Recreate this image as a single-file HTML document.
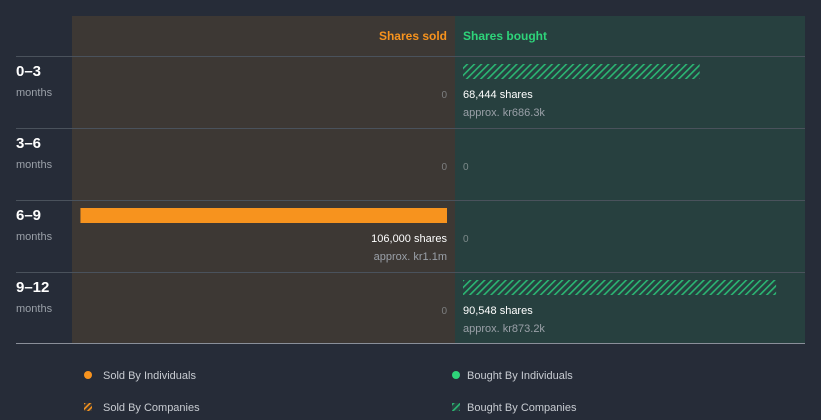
<!DOCTYPE html>
<html><head><meta charset="utf-8"><style>
body{margin:0;background:#262c38;font-family:"Liberation Sans",sans-serif;}
svg{display:block}
</style></head><body>
<svg id="c" width="821" height="420" xmlns="http://www.w3.org/2000/svg">
<defs>
<pattern id="hg" width="5" height="5" patternUnits="userSpaceOnUse" patternTransform="rotate(45)"><rect width="5" height="5" fill="#27403f"/><rect width="1.6" height="5" fill="#2bb673"/></pattern>
<pattern id="ho" width="4" height="4" patternUnits="userSpaceOnUse" patternTransform="rotate(45)"><rect width="4" height="4" fill="#3d3834"/><rect width="1.6" height="4" fill="#f7931e"/></pattern>
</defs>
<rect x="72" y="16" width="383" height="328" fill="#3d3834"/>
<rect x="455" y="16" width="350" height="328" fill="#27403f"/>
<text x="447" y="40" text-anchor="end" fill="#f7931e" font-size="12" font-weight="bold">Shares sold</text>
<text x="463" y="40" fill="#2ed47a" font-size="12" font-weight="bold">Shares bought</text>
<g id="rows"></g>
<line x1="16" y1="343.5" x2="805" y2="343.5" stroke="#8a8f99" stroke-width="1"/>
<g>
<circle cx="88" cy="375" r="4" fill="#f7931e"/>
<text x="103" y="379" fill="#c8ccd2" font-size="11">Sold By Individuals</text>
<rect x="84" y="403" width="8" height="8" fill="url(#ho)"/>
<text x="103" y="411" fill="#c8ccd2" font-size="11">Sold By Companies</text>
<circle cx="456" cy="375" r="4" fill="#2ed47a"/>
<text x="467" y="379" fill="#c8ccd2" font-size="11">Bought By Individuals</text>
<rect x="452" y="403" width="8" height="8" fill="url(#hg)"/>
<text x="467" y="411" fill="#c8ccd2" font-size="11">Bought By Companies</text>
</g>
</svg>
<script>
const periods=["0\u20133","3\u20136","6\u20139","9\u201312"];
const soldShares=[0,0,106000,0];
const soldValue=["","","kr1.1m",""];
const boughtShares=[68444,0,0,90548];
const boughtValue=["kr686.3k","","","kr873.2k"];
const soldByCompany=[false,false,false,false];
const boughtByCompany=[true,false,false,true];
const NS="http://www.w3.org/2000/svg";
const g=document.getElementById("rows");
const scale=v=>v*0.003458;
const rowY=i=>56+i*72;
function el(t,a,txt){const e=document.createElementNS(NS,t);for(const k in a)e.setAttribute(k,a[k]);if(txt!==undefined)e.textContent=txt;g.appendChild(e);return e;}
const fmt=n=>n.toLocaleString("en-US");
periods.forEach((p,i)=>{
  const y=rowY(i);
  const ln=el("line",{x1:16,y1:y+0.5,x2:805,y2:y+0.5,stroke:"#4a525c","stroke-width":1});
  
  
  const pl=el("text",{x:16,y:y+20,fill:"#ffffff","font-size":15,"font-weight":"bold"},p);
  
  
  const ml=el("text",{x:16,y:y+40,fill:"#9aa0a8","font-size":11},"months");
  
  
  if(soldShares[i]>0){
    const w=scale(soldShares[i]);
    const b=el("rect",{x:447-w,y:y+8,width:w,height:15,fill:soldByCompany[i]?"url(#ho)":"#f7931e"});
    
    
    const t=el("text",{x:447,y:y+42,"text-anchor":"end",fill:"#ffffff","font-size":11},fmt(soldShares[i])+" shares");
    
    
    const a=el("text",{x:447,y:y+60,"text-anchor":"end",fill:"#9aa0a8","font-size":11},"approx. "+soldValue[i]);
    
    
  } else {
    const z=el("text",{x:447,y:y+42,"text-anchor":"end",fill:"#7d7f80","font-size":10},"0");
    
    
  }
  if(boughtShares[i]>0){
    const w=scale(boughtShares[i]);
    const b=el("rect",{x:463,y:y+8,width:w,height:15,fill:boughtByCompany[i]?"url(#hg)":"#2ed47a"});
    
    
    const t=el("text",{x:463,y:y+42,fill:"#ffffff","font-size":11},fmt(boughtShares[i])+" shares");
    
    
    const a=el("text",{x:463,y:y+60,fill:"#9aa0a8","font-size":11},"approx. "+boughtValue[i]);
    
    
  } else {
    const z=el("text",{x:463,y:y+42,fill:"#7d8a8a","font-size":10},"0");
    
    
  }
});
</script>
</body></html>
